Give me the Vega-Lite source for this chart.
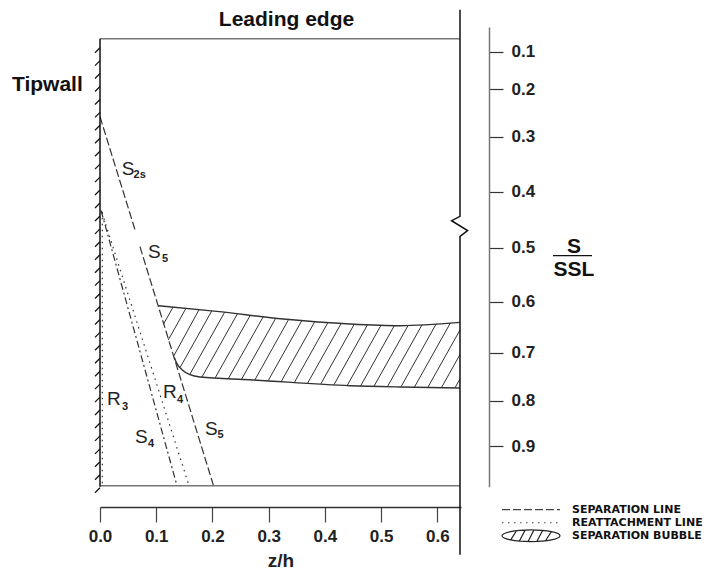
{
  "$schema": "https://vega.github.io/schema/vega-lite/v6.json",
  "width": 361,
  "height": 460,
  "autosize": {"type": "none"},
  "padding": {"left": 100, "top": 27, "right": 260, "bottom": 83},
  "config": {"view": {"stroke": null}, "font": "Liberation Sans", "text": {"font": "Liberation Sans"}},
  "datasets": {
    "frame": [
      {"part": "top", "i": 0, "z": 0, "s": 0.0653},
      {"part": "top", "i": 1, "z": 0.6402, "s": 0.0653},
      {"part": "bottom", "i": 0, "z": 0, "s": 0.9878},
      {"part": "bottom", "i": 1, "z": 0.6402, "s": 0.9878},
      {"part": "wall", "i": 0, "z": 0, "s": 0.0653},
      {"part": "wall", "i": 1, "z": 0, "s": 0.99},
      {"part": "edge", "i": 0, "z": 0.6402, "s": -0.0122},
      {"part": "edge", "i": 1, "z": 0.6402, "s": 0.4441},
      {"part": "edge", "i": 2, "z": 0.6253, "s": 0.4518},
      {"part": "edge", "i": 3, "z": 0.6537, "s": 0.4696},
      {"part": "edge", "i": 4, "z": 0.6402, "s": 0.4798},
      {"part": "edge", "i": 5, "z": 0.6402, "s": 1.1405}
    ],
    "walltick": [
      {"z": 0, "s": 0.0893}, {"z": 0, "s": 0.1238}, {"z": 0, "s": 0.1582}, {"z": 0, "s": 0.1926},
      {"z": 0, "s": 0.2214}, {"z": 0, "s": 0.2487}, {"z": 0, "s": 0.2760}, {"z": 0, "s": 0.3029},
      {"z": 0, "s": 0.3264}, {"z": 0, "s": 0.3499}, {"z": 0, "s": 0.3735}, {"z": 0, "s": 0.3970},
      {"z": 0, "s": 0.4201}, {"z": 0, "s": 0.4433}, {"z": 0, "s": 0.4664}, {"z": 0, "s": 0.4895},
      {"z": 0, "s": 0.5130}, {"z": 0, "s": 0.5370}, {"z": 0, "s": 0.5610}, {"z": 0, "s": 0.5849},
      {"z": 0, "s": 0.6094}, {"z": 0, "s": 0.6348}, {"z": 0, "s": 0.6602}, {"z": 0, "s": 0.6855},
      {"z": 0, "s": 0.7116}, {"z": 0, "s": 0.7385}, {"z": 0, "s": 0.7655}, {"z": 0, "s": 0.7925},
      {"z": 0, "s": 0.8206}, {"z": 0, "s": 0.8491}, {"z": 0, "s": 0.8777}, {"z": 0, "s": 0.9063},
      {"z": 0, "s": 0.9349}, {"z": 0, "s": 0.9635}, {"z": 0, "s": 0.9922}
    ],
    "lines": [
      {"name": "S2s", "style": "sep", "i": 0, "z": 0, "s": 0.2578},
      {"name": "S2s", "style": "sep", "i": 1, "z": 0.0622, "s": 0.4679},
      {"name": "S5", "style": "sep", "i": 0, "z": 0.0711, "s": 0.4982},
      {"name": "S5", "style": "sep", "i": 1, "z": 0.2019, "s": 0.9878},
      {"name": "S4", "style": "sepdot", "i": 0, "z": 0.002, "s": 0.4339},
      {"name": "S4", "style": "sepdot", "i": 1, "z": 0.1369, "s": 0.9878},
      {"name": "R4", "style": "reat", "i": 0, "z": 0.0036, "s": 0.4375},
      {"name": "R4", "style": "reat", "i": 1, "z": 0.1583, "s": 0.9878},
      {"name": "R3", "style": "reat", "i": 0, "z": 0.0041, "s": 0.4357},
      {"name": "R3", "style": "reat", "i": 1, "z": 0.0041, "s": 0.9878}
    ],
    "bubble": [
      {"edge": "top", "z": 0.1037, "s": 0.6078},
      {"edge": "top", "z": 0.2075, "s": 0.6190},
      {"edge": "top", "z": 0.3260, "s": 0.6339},
      {"edge": "top", "z": 0.4446, "s": 0.6437},
      {"edge": "top", "z": 0.5335, "s": 0.6471},
      {"edge": "top", "z": 0.6402, "s": 0.6406},
      {"edge": "bottom", "z": 0.1323, "s": 0.7104},
      {"edge": "bottom", "z": 0.1369, "s": 0.7229},
      {"edge": "bottom", "z": 0.1458, "s": 0.7354},
      {"edge": "bottom", "z": 0.1601, "s": 0.7458},
      {"edge": "bottom", "z": 0.1778, "s": 0.7506},
      {"edge": "bottom", "z": 0.2668, "s": 0.7563},
      {"edge": "bottom", "z": 0.4446, "s": 0.7688},
      {"edge": "bottom", "z": 0.5335, "s": 0.7715},
      {"edge": "bottom", "z": 0.6402, "s": 0.7735}
    ],
    "hatch": [
      {"z": 0.1129, "s": 0.6441, "z2": 0.1300, "s2": 0.6106},
      {"z": 0.1215, "s": 0.6749, "z2": 0.1528, "s2": 0.6131},
      {"z": 0.1314, "s": 0.7063, "z2": 0.1761, "s2": 0.6157},
      {"z": 0.1425, "s": 0.7308, "z2": 0.1988, "s2": 0.6180},
      {"z": 0.1595, "s": 0.7456, "z2": 0.2216, "s2": 0.6208},
      {"z": 0.1812, "s": 0.7508, "z2": 0.2444, "s2": 0.6237},
      {"z": 0.2049, "s": 0.7523, "z2": 0.2673, "s2": 0.6265},
      {"z": 0.2283, "s": 0.7538, "z2": 0.2904, "s2": 0.6294},
      {"z": 0.2518, "s": 0.7552, "z2": 0.3126, "s2": 0.6322},
      {"z": 0.2753, "s": 0.7569, "z2": 0.3355, "s2": 0.6347},
      {"z": 0.2990, "s": 0.7585, "z2": 0.3591, "s2": 0.6367},
      {"z": 0.3222, "s": 0.7602, "z2": 0.3822, "s2": 0.6386},
      {"z": 0.3457, "s": 0.7619, "z2": 0.4055, "s2": 0.6406},
      {"z": 0.3692, "s": 0.7635, "z2": 0.4290, "s2": 0.6424},
      {"z": 0.3927, "s": 0.7650, "z2": 0.4522, "s2": 0.6441},
      {"z": 0.4161, "s": 0.7667, "z2": 0.4759, "s2": 0.6449},
      {"z": 0.4396, "s": 0.7683, "z2": 0.4999, "s2": 0.6459},
      {"z": 0.4635, "s": 0.7692, "z2": 0.5236, "s2": 0.6467},
      {"z": 0.4873, "s": 0.7698, "z2": 0.5481, "s2": 0.6463},
      {"z": 0.5113, "s": 0.7704, "z2": 0.5730, "s2": 0.6447},
      {"z": 0.5353, "s": 0.7710, "z2": 0.5981, "s2": 0.6431},
      {"z": 0.5593, "s": 0.7715, "z2": 0.6232, "s2": 0.6416},
      {"z": 0.5831, "s": 0.7721, "z2": 0.6402, "s2": 0.6555},
      {"z": 0.6073, "s": 0.7727, "z2": 0.6402, "s2": 0.7038},
      {"z": 0.6313, "s": 0.7733, "z2": 0.6402, "s2": 0.7544}
    ],
    "labels": [
      {"text": "S", "z": 0.0386, "s": 0.3691},
      {"text": "S", "z": 0.0854, "s": 0.5185},
      {"text": "R", "z": 0.0124, "s": 0.8088},
      {"text": "S", "z": 0.0622, "s": 0.8927},
      {"text": "R", "z": 0.1120, "s": 0.7938},
      {"text": "S", "z": 0.1867, "s": 0.8751}
    ],
    "subs": [
      {"text": "2s", "z": 0.0596, "s": 0.3745},
      {"text": "5", "z": 0.1103, "s": 0.5259},
      {"text": "3", "z": 0.0391, "s": 0.8199},
      {"text": "4", "z": 0.0854, "s": 0.9015},
      {"text": "4", "z": 0.1369, "s": 0.8044},
      {"text": "5", "z": 0.2090, "s": 0.8817}
    ],
    "heads": [
      {"text": "Leading edge", "z": 0.3317, "s": 0.0324, "anchor": "center"},
      {"text": "Tipwall", "z": -0.1565, "s": 0.2044, "anchor": "left"},
      {"text": "S", "z": 0.8430, "s": 0.5093, "anchor": "center"},
      {"text": "SSL", "z": 0.8430, "s": 0.5519, "anchor": "center"}
    ],
    "bar": [{"z": 0.8056, "z2": 0.8750, "s": 0.5148}],
    "keylines": [
      {"kind": "sep", "z": 0.7149, "z2": 0.8181, "s": 1.0409},
      {"kind": "reat", "z": 0.7149, "z2": 0.8181, "s": 1.0697}
    ],
    "keybubble": [{"z": 0.7665, "s": 1.0985}],
    "keytext": [
      {"text": "SEPARATION LINE", "z": 0.8394, "s": 1.0409},
      {"text": "REATTACHMENT LINE", "z": 0.8394, "s": 1.0697},
      {"text": "SEPARATION BUBBLE", "z": 0.8394, "s": 1.0985}
    ]
  },
  "encoding": {
    "x": {
      "field": "z", "type": "quantitative",
      "scale": {"domain": [0, 0.642], "nice": false, "zero": false},
      "axis": {
        "orient": "bottom", "offset": 20, "values": [0, 0.1, 0.2, 0.3, 0.4, 0.5, 0.6], "format": ".1f",
        "grid": false, "labelFlush": false, "labelOverlap": false, "domain": true,
        "domainColor": "#333", "domainWidth": 1.5, "tickColor": "#444", "tickSize": 15, "tickWidth": 1.2,
        "labelFont": "Liberation Sans", "labelFontSize": 17, "labelFontWeight": "bold", "labelColor": "#222", "labelPadding": 6,
        "title": "z/h", "titleFont": "Liberation Sans", "titleFontSize": 19, "titleFontWeight": "bold", "titleColor": "#222", "titlePadding": 7
      }
    },
    "y": {
      "field": "s", "type": "quantitative",
      "scale": {
        "domain": [0.034, 0.1, 0.2, 0.3, 0.4, 0.5, 0.6, 0.7, 0.8, 0.9, 0.99],
        "range": [0, 24.7, 62.3, 109.7, 164.7, 220.7, 274.7, 325.7, 373.7, 419, 459.7],
        "nice": false, "zero": false
      },
      "axis": {
        "orient": "right", "offset": 28, "values": [0.1, 0.2, 0.3, 0.4, 0.5, 0.6, 0.7, 0.8, 0.9], "format": ".1f",
        "grid": false, "labelFlush": false, "labelOverlap": false,
        "domainColor": "#777", "domainWidth": 1.5, "tickColor": "#333", "tickSize": 14, "tickWidth": 1.2,
        "labelFont": "Liberation Sans", "labelFontSize": 17, "labelFontWeight": "bold", "labelColor": "#222", "labelPadding": 8,
        "title": null
      }
    }
  },
  "layer": [
    {
      "data": {"name": "hatch"},
      "mark": {"type": "rule", "color": "#333", "strokeWidth": 1},
      "encoding": {"x2": {"field": "z2"}, "y2": {"field": "s2"}}
    },
    {
      "data": {"name": "bubble"},
      "mark": {"type": "line", "color": "#333", "strokeWidth": 1.4, "interpolate": "monotone"},
      "encoding": {"detail": {"field": "edge"}}
    },
    {
      "data": {"name": "lines"},
      "mark": {"type": "line", "color": "#333", "strokeWidth": 1.2},
      "encoding": {
        "detail": {"field": "name"},
        "order": {"field": "i"},
        "strokeDash": {"field": "style", "type": "nominal", "legend": null,
          "scale": {"domain": ["sep", "sepdot", "reat"], "range": [[8, 3], [7, 3, 2, 3], [1.5, 4.5]]}}
      }
    },
    {
      "data": {"name": "frame"},
      "transform": [{"filter": "datum.part === 'top' || datum.part === 'bottom'"}],
      "mark": {"type": "line", "color": "#777", "strokeWidth": 1.5},
      "encoding": {"detail": {"field": "part"}, "order": {"field": "i"}}
    },
    {
      "data": {"name": "frame"},
      "transform": [{"filter": "datum.part === 'wall' || datum.part === 'edge'"}],
      "mark": {"type": "line", "color": "#111", "strokeWidth": 1.5},
      "encoding": {"detail": {"field": "part"}, "order": {"field": "i"}}
    },
    {
      "data": {"name": "walltick"},
      "mark": {"type": "point", "shape": "M0,0L-1,1", "filled": false, "stroke": "#111", "strokeWidth": 1.3, "size": 100, "opacity": 1}
    },
    {
      "data": {"name": "labels"},
      "mark": {"type": "text", "align": "left", "baseline": "alphabetic", "fontSize": 19, "color": "#222"},
      "encoding": {"text": {"field": "text"}}
    },
    {
      "data": {"name": "subs"},
      "mark": {"type": "text", "align": "left", "baseline": "alphabetic", "fontSize": 11, "fontWeight": "bold", "color": "#222"},
      "encoding": {"text": {"field": "text"}}
    },
    {
      "data": {"name": "heads"},
      "transform": [{"filter": "datum.anchor === 'center'"}],
      "mark": {"type": "text", "align": "center", "baseline": "alphabetic", "fontSize": 21, "fontWeight": "bold", "color": "#111"},
      "encoding": {"text": {"field": "text"}}
    },
    {
      "data": {"name": "heads"},
      "transform": [{"filter": "datum.anchor === 'left'"}],
      "mark": {"type": "text", "align": "left", "baseline": "alphabetic", "fontSize": 21, "fontWeight": "bold", "color": "#111"},
      "encoding": {"text": {"field": "text"}}
    },
    {
      "data": {"name": "bar"},
      "mark": {"type": "rule", "color": "#111", "strokeWidth": 1.3},
      "encoding": {"x2": {"field": "z2"}}
    },
    {
      "data": {"name": "keylines"},
      "mark": {"type": "rule", "color": "#444", "strokeWidth": 1.2},
      "encoding": {
        "x2": {"field": "z2"},
        "strokeDash": {"field": "kind", "type": "nominal", "legend": null,
          "scale": {"domain": ["sep", "reat"], "range": [[8, 3], [1.5, 4.5]]}}
      }
    },
    {
      "data": {"name": "keybubble"},
      "mark": {"type": "point", "filled": false, "stroke": "#222", "strokeWidth": 1.2, "size": 3364, "opacity": 1,
        "shape": "M-1,0A1,0.2,0,1,0,1,0A1,0.2,0,1,0,-1,0ZM-0.7,0.143L-0.5,-0.173M-0.4,0.183L-0.2,-0.196M-0.1,0.199L0.1,-0.199M0.2,0.196L0.4,-0.183M0.5,0.173L0.7,-0.143"}
    },
    {
      "data": {"name": "keytext"},
      "mark": {"type": "text", "align": "left", "baseline": "middle", "font": "DejaVu Sans", "fontSize": 11, "fontWeight": "bold", "color": "#111"},
      "encoding": {"text": {"field": "text"}}
    }
  ]
}
